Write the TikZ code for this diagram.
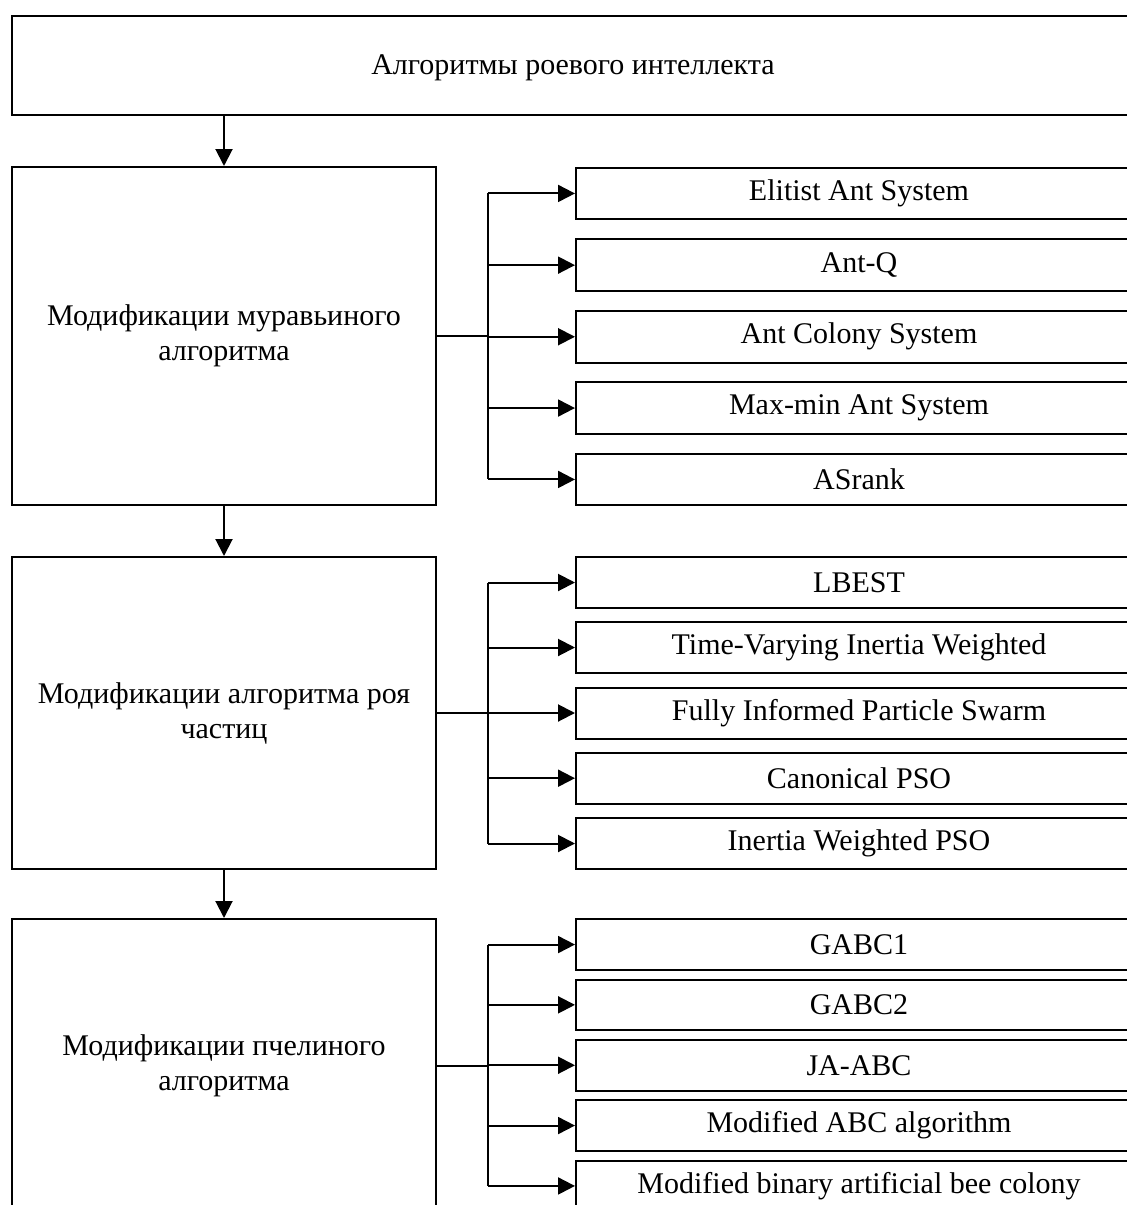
\documentclass[tikz,border=0pt]{standalone}
\usepackage{fontspec}
\setmainfont{Liberation Serif}
\usetikzlibrary{arrows.meta}
\newcommand{\fsz}{\fontsize{30}{35}\selectfont}
\tikzset{
  box/.style={draw, line width=2pt, inner sep=0pt, font=\fsz, align=center, anchor=north west},
  lbox/.style={box, minimum width=424pt},
  rbox/.style={box, minimum width=566pt, minimum height=51pt},
  ln/.style={line width=2pt},
  arr/.style={line width=2pt, -{Triangle[length=17pt,width=17pt]}}
}
\begin{document}
\begin{tikzpicture}[x=1pt,y=-1pt]
\useasboundingbox (0,0) rectangle (1127,1205);
\fill[white] (0,0) rectangle (1127,1205);
\coordinate (tx) at (488,0);
% top
\node[box, minimum width=1122pt, minimum height=99pt, text depth=2pt] (T) at (11,15) {Алгоритмы роевого интеллекта};
% left boxes
\node[lbox, minimum height=338pt] (L1) at (11,166) {Модификации муравьиного\\алгоритма};
\node[lbox, minimum height=312pt] (L2) at (11,556) {Модификации алгоритма роя\\частиц};
\node[lbox, minimum height=294pt] (L3) at (11,918) {Модификации пчелиного\\алгоритма};
% group 1
\node[rbox, minimum height=51.5pt] (A1) at (575,166.7) {Elitist Ant System};
\node[rbox, minimum height=51.5pt] (A2) at (575,238.4) {Ant-Q};
\node[rbox, minimum height=51.5pt] (A3) at (575,310.0) {Ant Colony System};
\node[rbox, minimum height=51.5pt] (A4) at (575,381.3) {Max-min Ant System};
\node[rbox, minimum height=51.5pt] (A5) at (575,452.7) {ASrank};
% group 2
\node[rbox] (B1) at (575,556) {LBEST};
\node[rbox] (B2) at (575,621) {Time-Varying Inertia Weighted};
\node[rbox] (B3) at (575,686.5) {Fully Informed Particle Swarm};
\node[rbox] (B4) at (575,751.7) {Canonical PSO};
\node[rbox] (B5) at (575,817) {Inertia Weighted PSO};
% group 3
\node[rbox, minimum height=50.5pt] (C1) at (575,918.3) {GABC1};
\node[rbox, minimum height=50.5pt] (C2) at (575,978.6) {GABC2};
\node[rbox, minimum height=50.5pt] (C3) at (575,1039) {JA-ABC};
\node[rbox, minimum height=50.5pt] (C4) at (575,1099.3) {Modified ABC algorithm};
\node[rbox, minimum height=50.5pt] (C5) at (575,1159.7) {Modified binary artificial bee colony};
% vertical arrows
\draw[arr] (T.south -| L1.north) -- (L1.north);
\draw[arr] (L1.south) -- (L2.north);
\draw[arr] (L2.south) -- (L3.north);
% branches
\foreach \g/\L in {A/L1,B/L2,C/L3}{
  \draw[ln] (\L.east) -- (\L.east -| tx);
  \draw[ln] (tx |- \g1.west) -- (tx |- \g5.west);
  \foreach \i in {1,...,5}{
    \draw[arr] (tx |- \g\i.west) -- (\g\i.west);
  }
}
\end{tikzpicture}
\end{document}
